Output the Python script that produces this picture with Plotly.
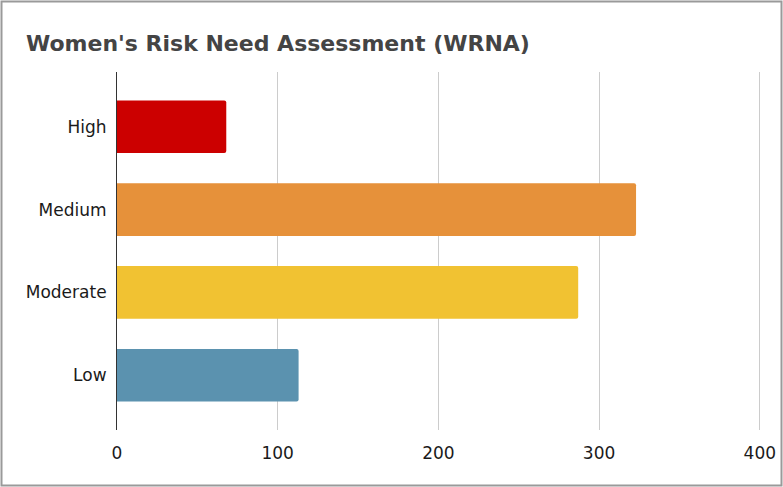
import plotly.graph_objects as go

# Assessment levels (top to bottom) and counts
categories = ["High", "Medium", "Moderate", "Low"]
counts = [68, 323, 287, 113]
bar_colors = ["#cc0000", "#e6913a", "#f1c232", "#5b92af"]
x_ticks = [0, 100, 200, 300, 400]

W, H = 783, 487
ML, MR, MT, MB = 117, 20, 72, 57
X_MAX = 402  # a little headroom so the 400 gridline is drawn

fig = go.Figure(
    go.Bar(
        x=counts,
        y=categories,
        orientation="h",
        marker=dict(color=bar_colors, line=dict(width=0), cornerradius=2),
        width=0.635,
        hoverinfo="x+y",
    )
)

# outer frame around the whole figure, expressed in paper coordinates
pw, ph = W - ML - MR, H - MT - MB
fig.add_shape(
    type="rect", xref="paper", yref="paper",
    x0=(1.5 - ML) / pw, x1=(W - 1.5 - ML) / pw,
    y0=-(MB - 1.5) / ph, y1=1 + (MT - 1.5) / ph,
    line=dict(color="#9a9a9a", width=2), fillcolor="rgba(0,0,0,0)",
    layer="above",
)

fig.update_layout(
    width=W,
    height=H,
    margin=dict(l=ML, r=MR, t=MT, b=MB, autoexpand=False),
    paper_bgcolor="white",
    plot_bgcolor="white",
    showlegend=False,
    font=dict(family="DejaVu Sans, Verdana, sans-serif", size=17, color="#1a1a1a"),
    title=dict(
        text="<b>Women's Risk Need Assessment (WRNA)</b>",
        font=dict(family="DejaVu Sans, Verdana, sans-serif", size=22, color="#444444"),
        xref="container", yref="container",
        x=26 / W, xanchor="left",
        y=1 - 43 / H, yanchor="middle",
    ),
    xaxis=dict(
        range=[0, X_MAX],
        tickvals=x_ticks,
        showgrid=True,
        gridcolor="#cccccc",
        gridwidth=1,
        zeroline=False,
        showline=False,
        ticks="",
        ticklabelstandoff=11,
        automargin=False,
        fixedrange=True,
    ),
    yaxis=dict(
        categoryorder="array",
        categoryarray=categories[::-1],
        range=[-0.66, 3.66],
        showgrid=False,
        zeroline=False,
        showline=True,
        linecolor="#333333",
        linewidth=1,
        ticks="",
        ticklabelstandoff=6,
        automargin=False,
        fixedrange=True,
    ),
)

fig.write_html("out.html")
